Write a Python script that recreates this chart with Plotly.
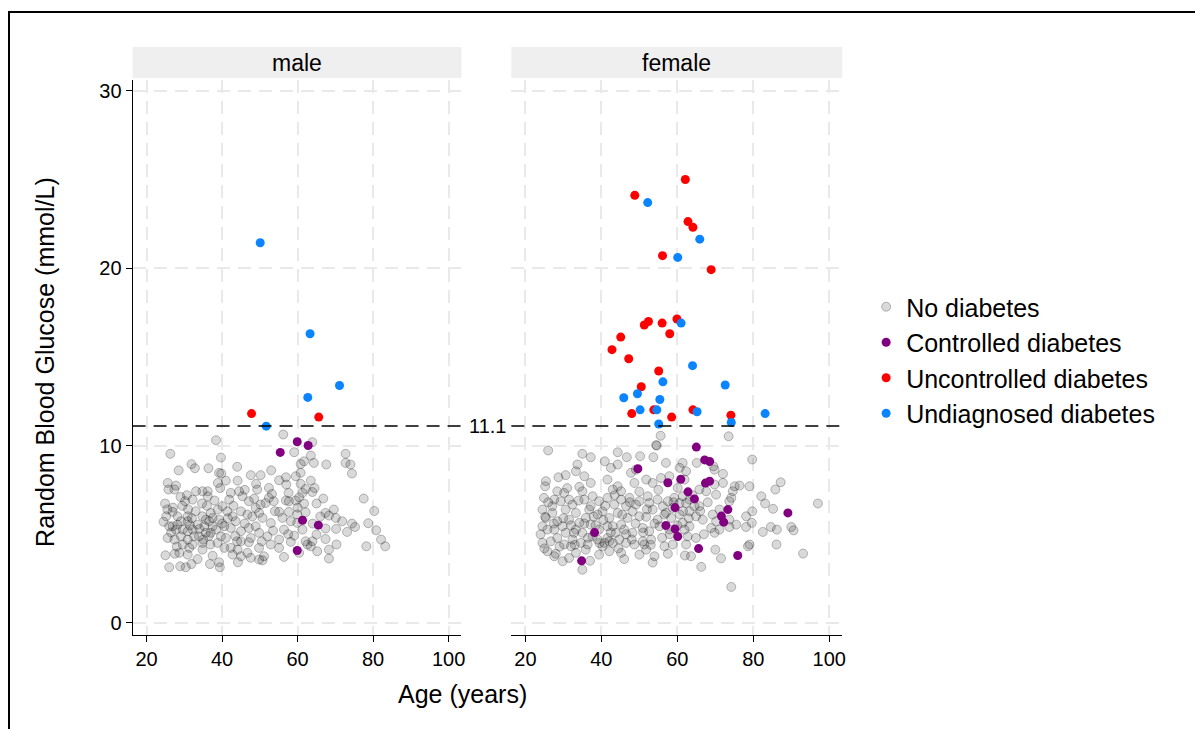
import plotly.graph_objects as go

# ---------------- data (age in years, glucose in mmol/L) ----------------
male_none = [
    (38.4,10.3),(26.3,9.53),(39.7,9.32),(31.9,8.95),(32.8,8.72),(36.4,8.72),(39.2,8.46),(39.8,8.42),
    (38.9,7.89),(41.0,8.02),(44.1,8.02),(47.6,8.33),(50.2,8.33),(49.0,7.84),(49.3,7.52),(52.4,7.61),(53.2,7.27),
    (25.6,7.89),(25.8,7.52),(27.4,7.52),(27.8,7.74),(30.7,7.2),(33.1,7.42),(34.8,7.42),(36.2,7.42),
    (36.2,7.14),(34.7,6.73),(32.2,6.95),(30.2,6.86),(24.9,6.73),(26.9,6.26),(25.2,6.01),
    (28.2,6.01),(29.1,5.73),(30.9,6.01),(30.9,5.73),(26.0,5.45),(27.8,5.26),(25.6,4.79),(27.4,4.7),
    (29.1,4.88),(30.9,4.7),(32.2,5.26),(32.6,4.88),(29.6,4.42),(31.3,4.23),(30.9,3.85),(28.7,3.95),
    (25.0,3.81),(26.0,3.14),(28.9,3.19),(30.4,3.14),(31.9,3.32),(36.8,3.32),(39.4,3.14),(39.2,3.42),(44.2,3.42),
    (34.8,4.51),(36.9,4.42),(34.8,4.13),(37.5,3.79),(33.5,5.54),(35.3,5.45),(36.6,5.73),(37.5,5.45),
    (37.0,6.2),(38.8,6.39),(40.1,6.58),(39.2,5.82),(41.9,6.95),(42.3,7.33),(44.5,7.42),(45.4,7.14),
    (41.4,6.29),(42.8,6.01),(45.0,6.29),(46.7,6.11),(40.6,5.45),(42.3,5.35),(43.6,5.73),(45.0,5.17),
    (39.7,4.88),(41.0,4.79),(38.8,4.51),(40.6,4.23),(42.3,4.23),(44.1,4.13),(42.8,3.85),(45.0,3.76),
    (47.1,5.35),(48.9,5.45),(49.8,5.08),(47.6,4.79),(49.8,6.2),(50.7,5.92),(51.5,6.76),(48.9,6.48),
    (47.1,6.86),(50.2,6.67),(52.4,7.05),(53.7,6.86),(52.9,5.63),(52.0,4.88),(52.9,4.42),(49.8,4.23),(51.1,3.76),(49.8,3.57),
    (47.1,4.55),(45.0,4.6),(46.7,3.95),(47.6,3.67),(50.7,3.53),(34.8,6.01),(35.7,5.82),(37.5,5.92),
    (26.9,5.45),(28.2,5.54),(29.6,5.26),(30.9,5.17),(32.2,4.42),(33.9,4.88),(35.7,5.08),(37.0,5.08),(38.4,5.26),
    (56.2,10.62),(63.9,10.19),(59.1,9.62),(61.7,9.11),(60.8,8.96),(63.5,9.43),(64.3,9.02),(67.6,8.93),
    (72.7,9.53),(72.7,9.02),(74.0,8.93),(74.4,8.42),(59.5,8.27),(56.9,8.21),(55.1,8.04),(60.8,8.46),
    (63.5,8.02),(60.8,7.84),(62.1,7.55),(63.9,7.38),(61.3,7.33),(60.4,7.08),(57.6,7.33),
    (56.9,6.9),(57.7,6.86),(59.5,6.9),(61.7,6.73),(65.0,6.73),(66.8,7.01),
    (55.1,6.26),(57.7,6.26),(59.9,6.11),(62.1,6.24),(56.0,5.92),(58.2,5.73),(59.9,5.64),(56.4,5.26),
    (61.3,5.26),(59.1,4.92),(58.2,4.57),(55.1,4.7),(67.4,6.2),(68.3,6.05),(69.6,6.39),(70.1,5.92),(71.8,5.73),
    (67.4,5.32),(70.2,5.3),(73.1,5.13),(74.4,5.6),(75.2,5.41),(65.0,4.98),(67.4,4.73),(63.9,4.6),
    (62.6,4.42),(62.1,4.6),(63.5,4.32),(65.2,4.04),(68.3,4.13),(68.3,3.63),(70.3,4.42),(56.4,3.72),(55.1,4.23),
    (77.5,7.01),(80.3,6.31),(78.7,5.62),(80.8,5.22),(82.1,4.7),(83.2,4.32),(78.2,4.32),(60.4,3.95),
    (26.5,5.1),(27.0,6.5),(28.0,4.3),(29.5,6.6),(31.0,6.4),(32.0,5.9),(33.0,6.3),(34.0,5.3),(35.0,4.7),
    (36.0,6.6),(38.0,6.9),(39.5,7.6),(41.5,5.9),(43.0,6.6),(44.0,4.6),(46.0,5.6),(48.0,6.0),(50.5,4.6),
    (53.5,5.2),(54.0,6.3),(25.5,6.4),(27.5,3.9),(29.0,7.1),(31.5,5.5),(33.5,3.6),(36.5,4.9),(40.0,5.6),
    (43.5,4.9),(46.0,7.5),(48.5,7.0),(57.5,5.0),(64.0,5.6),(66.0,6.0),(60.0,6.5),(57.0,7.8),(64.5,7.6),
    (53.0,8.6),(44.0,8.8),(28.5,8.6),(24.5,5.7),
]
male_controlled = [(59.9,10.21),(62.8,10.0),(55.4,9.61),(61.3,5.79),(65.5,5.51),(59.9,4.08)]
male_uncontrolled = [(47.8,11.8),(65.6,11.6)]
male_undiagnosed = [(50.1,21.43),(63.3,16.3),(71.1,13.38),(62.7,12.71),(51.7,11.09)]

female_none = [
    (26.0,9.72),(54.4,10.02),(35.0,9.53),(37.2,9.34),(44.3,9.62),(40.9,9.11),(42.5,8.74),(44.3,8.93),
    (46.7,9.34),(50.2,9.4),(53.7,9.34),(57.0,9.02),(33.7,8.93),(33.3,8.55),(35.5,8.27),(30.6,8.33),(28.7,8.21),
    (25.4,7.99),(25.2,7.7),(34.2,7.67),(37.2,7.89),(41.6,8.08),(44.3,7.7),(45.2,7.42),(43.0,7.52),
    (47.8,8.46),(49.1,8.64),(48.7,7.89),(51.8,8.08),(53.5,7.89),(55.7,8.17),(57.9,8.27),(60.6,8.74),(60.1,7.61),
    (28.4,7.42),(30.2,7.33),(31.5,6.95),(27.6,6.95),(24.9,7.05),(35.0,7.42),(35.5,6.95),(37.7,7.14),(39.4,6.86),
    (41.6,7.05),(45.2,6.95),(47.4,7.05),(50.0,6.86),(52.2,7.14),(54.8,6.95),(57.5,6.86),(59.2,7.05),(60.6,6.76),
    (24.5,6.39),(25.4,5.92),(24.5,5.45),(27.1,6.2),(28.4,5.73),(30.6,6.39),(31.5,5.82),
    (33.3,6.2),(34.2,5.64),(35.9,5.92),(36.8,6.39),(39.0,6.11),(40.3,6.29),
    (42.1,5.92),(44.3,6.2),(43.0,5.45),(45.2,5.54),(46.9,5.92),(48.2,6.29),(50.0,6.01),
    (51.8,5.98),(53.5,6.39),(54.8,5.82),(56.6,6.11),(58.4,5.92),(60.6,6.11),
    (25.8,5.26),(27.6,5.26),(29.8,5.45),(30.6,5.08),(33.3,5.26),(35.0,5.08),(37.2,5.54),
    (39.4,5.26),(41.6,5.45),(43.8,5.08),(46.0,5.26),(48.2,5.08),(50.9,5.35),(52.6,5.17),(55.3,5.45),(57.9,5.26),
    (24.5,4.51),(26.7,4.6),(28.4,4.79),(30.2,4.42),(32.4,4.7),
    (34.6,4.51),(36.4,4.42),(39.0,4.7),(40.8,4.51),(43.0,4.51),(44.7,4.7),
    (46.5,4.51),(48.7,4.42),(50.9,4.6),(53.1,4.7),(56.6,4.32),(58.8,4.42),
    (25.8,4.04),(27.6,3.76),(29.8,3.48),(31.5,3.66),(33.3,3.95),(35.9,4.13),(39.4,3.85),(40.3,4.32),
    (35.0,3.0),(42.1,4.04),(45.2,3.95),(50.0,3.85),(51.8,4.13),(54.0,3.76),(51.3,4.42),
    (32.0,4.32),(32.8,5.08),(37.7,4.88),(41.6,4.79),(25.2,5.98),(42.1,4.6),
    (27.1,6.58),(29.3,6.86),(32.4,6.67),(37.2,6.58),(43.4,6.67),(46.5,6.58),(49.1,6.67),(52.6,6.76),(56.2,6.58),(58.8,6.48),
    (55.6,10.55),(54.6,10.0),
    (73.5,10.52),(79.7,9.21),(65.1,9.02),(69.5,8.83),(69.8,8.64),(72.0,8.4),(62.3,8.55),(61.4,9.02),(61.9,8.08),
    (65.8,7.52),(67.6,7.42),(69.8,7.8),(70.2,7.23),(72.0,7.89),(75.1,7.7),(76.4,7.74),(79.0,7.7),
    (74.6,7.42),(73.7,6.86),(74.2,7.05),(82.1,7.14),(83.1,6.73),(85.2,6.43),(85.8,7.52),(87.2,7.93),
    (62.3,6.76),(64.5,6.58),(63.2,6.29),(64.9,6.01),(66.7,5.82),
    (69.3,6.11),(70.2,5.73),(71.1,6.39),(73.7,5.82),(75.5,5.54),(78.1,6.01),(79.7,6.29),(79.6,5.64),
    (61.4,5.64),(63.2,5.45),(61.9,5.26),(62.7,4.88),(68.9,5.35),(69.8,5.08),(71.1,5.26),(73.7,5.41),
    (78.1,5.41),(82.5,5.13),(84.6,5.41),(86.2,5.26),(86.1,4.42),(90.0,5.41),(90.6,5.22),
    (97.0,6.73),(93.1,3.91),(78.6,4.32),(79.0,4.42),
    (62.3,4.42),(64.9,4.79),(63.6,3.76),(66.3,3.16),(70.0,4.13),(71.5,3.64),(74.2,2.03),
    (61.4,7.14),(63.2,6.95),(65.8,6.58),
    (26.0,6.8),(27.5,5.6),(29.0,4.3),(30.0,5.9),(31.0,7.6),(32.0,5.5),(33.0,4.4),(34.0,6.9),(35.5,5.6),
    (36.5,4.8),(38.0,6.0),(38.5,5.5),(39.5,4.5),(40.5,5.8),(41.0,6.6),(42.5,5.1),(43.5,7.2),(44.5,4.2),
    (45.5,6.1),(46.5,5.0),(47.5,6.8),(48.0,4.7),(49.0,5.6),(50.0,7.4),(51.0,5.1),(52.0,6.4),(53.0,4.4),
    (54.0,5.6),(55.0,7.5),(56.0,4.8),(57.0,6.2),(58.0,5.0),(59.0,6.8),(60.0,5.5),(61.5,6.3),(63.0,5.9),
    (64.0,7.2),(66.0,6.3),(67.0,5.0),(68.0,6.8),(24.0,5.0),(25.0,4.2),(28.0,3.9),(37.0,3.5),(46.0,3.6),
    (53.5,3.4),(57.5,3.9),(62.0,3.8),
]
female_controlled = [
    (65.0,9.91),(67.2,9.19),(68.5,9.1),(49.6,8.69),(60.9,8.1),(57.5,7.9),(67.4,7.88),(68.5,7.99),
    (62.8,7.39),(64.5,6.99),(59.4,6.5),(73.3,6.39),(89.1,6.2),(71.6,6.02),(72.2,5.68),(57.0,5.49),
    (59.4,5.3),(60.1,4.87),(38.2,5.09),(65.6,4.19),(75.9,3.8),(34.8,3.5),
]
female_uncontrolled = [
    (62.1,24.99),(48.8,24.1),(62.8,22.62),(64.1,22.3),(56.1,20.7),(68.9,19.91),(51.3,16.79),(52.4,16.99),
    (56.0,16.9),(59.9,17.13),(58.0,16.3),(45.1,16.11),(42.8,15.4),(47.2,14.89),(55.1,14.2),(50.5,13.31),
    (48.0,11.8),(53.8,12.01),(58.5,11.6),(64.1,12.01),(74.1,11.71),
]
female_undiagnosed = [
    (52.2,23.69),(65.9,21.63),(60.1,20.6),(61.0,16.9),(64.0,14.5),(56.2,13.59),(72.6,13.41),(45.9,12.69),
    (49.5,12.92),(55.4,12.59),(50.2,12.01),(54.6,12.01),(65.2,11.9),(74.2,11.3),(83.1,11.8),(55.1,11.21),
]

panels = ["male", "female"]
categories = ["No diabetes", "Controlled diabetes", "Uncontrolled diabetes", "Undiagnosed diabetes"]
threshold = 11.1
x_ticks = [20, 40, 60, 80, 100]
y_ticks = [0, 10, 20, 30]

data = {
    "male": [male_none, male_controlled, male_uncontrolled, male_undiagnosed],
    "female": [female_none, female_controlled, female_uncontrolled, female_undiagnosed],
}

# ---------------- styling ----------------
W, H = 1203, 729
OFF = 8  # page body margin
FONT = "Arial, Liberation Sans, Helvetica, sans-serif"
colors = ["rgba(0,0,0,0.15)", "#800080", "#ff0000", "#0a84ff"]
line_colors = ["rgba(0,0,0,0.25)", "#800080", "#ff0000", "#0a84ff"]


def px(x):
    return (x - OFF) / W


def py(y):
    return 1 - (y - OFF) / H


panel_dom = {"male": (133, 463), "female": (513, 845)}
y_top, y_bot = 80, 635

fig = go.Figure()
axes = {"male": ("x", "y"), "female": ("x2", "y2")}
for ci, cat in enumerate(categories):
    for pi, p in enumerate(panels):
        pts = data[p][ci]
        xa, ya = axes[p]
        fig.add_trace(go.Scatter(
            x=[a for a, _ in pts], y=[g for _, g in pts],
            mode="markers", xaxis=xa, yaxis=ya,
            name=cat, legendgroup=cat, showlegend=(pi == 0),
            marker=dict(size=9, color=colors[ci],
                        line=dict(width=1 if ci == 0 else 0, color=line_colors[ci])),
            hoverinfo="skip",
        ))

xrange = [16.3, 103.4]
yrange = [-0.68, 30.6]
grid = dict(showgrid=True, gridcolor="#e9e9e9", gridwidth=1.5, griddash="13px,8px", zeroline=False)
axis_common = dict(showline=True, linecolor="black", linewidth=1, ticks="outside", ticklen=6,
                   tickcolor="black", tickfont=dict(size=20))

fig.update_layout(
    width=W, height=H,
    margin=dict(l=0, r=0, t=0, b=0),
    paper_bgcolor="white", plot_bgcolor="white",
    font=dict(family=FONT, size=18, color="black"),
    showlegend=True,
    legend=dict(x=px(869), y=py(284), xanchor="left", yanchor="top",
                font=dict(family=FONT, size=25, color="black"),
                tracegroupgap=0, borderwidth=0, bgcolor="rgba(0,0,0,0)",
                itemsizing="trace"),
    xaxis=dict(domain=[px(133), px(463)], range=xrange, tickvals=x_ticks, anchor="y",
               **axis_common, **grid),
    xaxis2=dict(domain=[px(513), px(845)], range=xrange, tickvals=x_ticks, anchor="y2",
                **axis_common, **grid),
    yaxis=dict(domain=[py(y_bot), py(y_top)], range=yrange, tickvals=y_ticks, anchor="x",
               **axis_common, **grid),
    yaxis2=dict(domain=[py(y_bot), py(y_top)], range=yrange, tickvals=y_ticks,
                showline=False, showticklabels=False, ticks="", anchor="x2", **grid),
)

# strip headers and threshold lines
shapes = []
annotations = []
for p in panels:
    x0, x1 = panel_dom[p]
    shapes.append(dict(type="rect", xref="paper", yref="paper",
                       x0=px(x0), x1=px(x1), y0=py(78), y1=py(47),
                       fillcolor="#efefef", line=dict(width=0), layer="below"))
    annotations.append(dict(text=p, xref="paper", yref="paper",
                            x=px((x0 + x1) / 2), y=py(63), showarrow=False,
                            xanchor="center", yanchor="middle",
                            font=dict(family=FONT, size=23, color="black")))
for xa, ya in [("x", "y"), ("x2", "y2")]:
    shapes.append(dict(type="line", xref=f"{xa} domain", yref=ya,
                       x0=0, x1=1, y0=threshold, y1=threshold,
                       line=dict(color="black", width=1.6, dash="13px,8px")))

annotations.append(dict(text=f"{threshold}", xref="paper", yref="y",
                        x=px(489), y=threshold, showarrow=False,
                        xanchor="center", yanchor="middle",
                        font=dict(family=FONT, size=20, color="black")))
annotations.append(dict(text="Random Blood Glucose (mmol/L)", xref="paper", yref="paper",
                        x=px(45), y=py(362), showarrow=False, textangle=-90,
                        xanchor="center", yanchor="middle",
                        font=dict(family=FONT, size=25, color="black")))
annotations.append(dict(text="Age (years)", xref="paper", yref="paper",
                        x=px(464), y=py(694), showarrow=False,
                        xanchor="center", yanchor="middle",
                        font=dict(family=FONT, size=25, color="black")))

# outer frame
shapes.append(dict(type="rect", xref="paper", yref="paper",
                   x0=px(9), y0=py(12), x1=1.05, y1=-0.05,
                   line=dict(color="black", width=2), fillcolor="rgba(0,0,0,0)"))

fig.update_layout(shapes=shapes, annotations=annotations)
fig.write_html("out.html", config={"displayModeBar": False})
